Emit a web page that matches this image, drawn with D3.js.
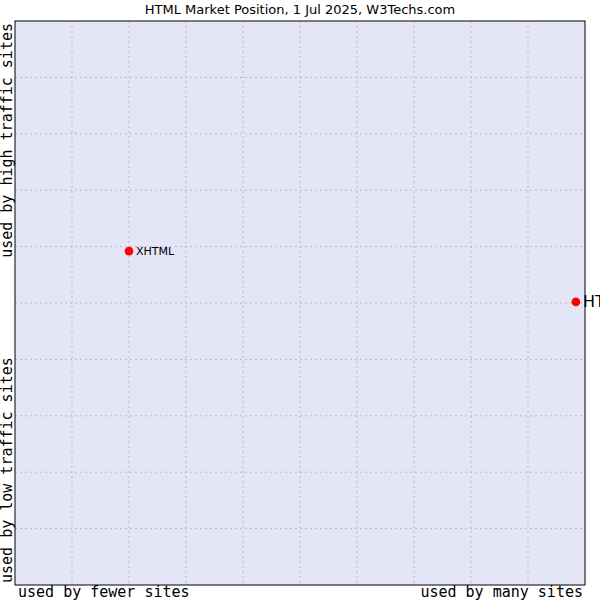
<!doctype html>
<html>
<head>
<script src="https://cdnjs.cloudflare.com/ajax/libs/d3/7.8.5/d3.min.js"></script>
<style>
  body { margin: 0; background: #fff; }
  .grid line { stroke: #bbb; stroke-dasharray: 2 3; }
  text.axlab { font-family: "DejaVu Sans Mono", monospace; font-size: 15px; fill: #000; }
</style>
</head>
<body>
<svg width="600" height="600"></svg>
<script>
var names = ["XHTML", "HTML"];
var traffic = [59.2, 50.2];   // vertical: high traffic at top
var usage = [20, 98.4];       // horizontal: many sites at right
var labelSizes = [11, 16];
var gridTicks = d3.range(10, 100, 10);

var svg = d3.select("svg");
var pl = 15, pr = 585, pt = 21, pb = 585;
var x = d3.scaleLinear().domain([0, 100]).range([pl, pr]);
var y = d3.scaleLinear().domain([0, 100]).range([pb, pt]);

svg.append("rect").attr("x", pl).attr("y", pt)
  .attr("width", pr - pl).attr("height", pb - pt)
  .attr("fill", "#e4e6f8");

var g = svg.append("g").attr("class", "grid");
g.selectAll(".v").data(gridTicks).enter().append("line")
  .attr("x1", d => x(d)).attr("x2", d => x(d)).attr("y1", pt).attr("y2", pb);
g.selectAll(".h").data(gridTicks).enter().append("line")
  .attr("y1", d => y(d)).attr("y2", d => y(d)).attr("x1", pl).attr("x2", pr);

svg.append("rect").attr("x", pl).attr("y", pt)
  .attr("width", pr - pl).attr("height", pb - pt)
  .attr("fill", "none").attr("stroke", "#000").attr("stroke-width", 1);

svg.append("text").attr("x", 300).attr("y", 14).attr("text-anchor", "middle")
  .style("font-family", "DejaVu Sans").style("font-size", "13px")
  .text("HTML Market Position, 1 Jul 2025, W3Techs.com");

svg.append("text").attr("class", "axlab").attr("x", 18).attr("y", 597).text("used by fewer sites");
svg.append("text").attr("class", "axlab").attr("x", 583).attr("y", 597)
  .attr("text-anchor", "end").text("used by many sites");
svg.append("text").attr("class", "axlab").attr("transform", "translate(12,23) rotate(-90)")
  .attr("text-anchor", "end").text("used by high traffic sites");
svg.append("text").attr("class", "axlab").attr("transform", "translate(12,583) rotate(-90)")
  .attr("text-anchor", "start").text("used by low traffic sites");

var pts = names.map((n, i) => ({ n: n, x: usage[i], y: traffic[i], s: labelSizes[i] }));
var pg = svg.selectAll(".pt").data(pts).enter().append("g")
  .attr("transform", d => "translate(" + x(d.x) + "," + y(d.y) + ")");
pg.append("path").attr("fill", "#f00")
  .attr("d", d3.symbol().type(d3.symbolCircle).size(60));
pg.append("text").attr("x", 7).attr("dy", "0.35em")
  .style("font-family", "DejaVu Sans").style("font-size", d => d.s + "px")
  .text(d => d.n);
</script>
</body>
</html>
